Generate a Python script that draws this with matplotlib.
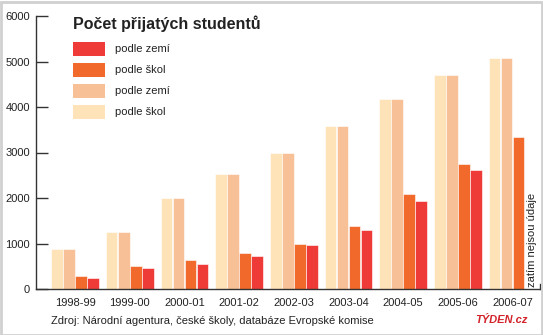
import numpy as np
import matplotlib
matplotlib.use("Agg")
import matplotlib.pyplot as plt
from matplotlib.patches import Rectangle
from matplotlib.lines import Line2D

plt.rcParams['font.family'] = ['Liberation Sans', 'DejaVu Sans']

# School years
years = ["1998-99", "1999-00", "2000-01", "2001-02", "2002-03",
         "2003-04", "2004-05", "2005-06", "2006-07"]

# Admitted students (series in drawing order within each year)
skol_light = [880, 1250, 2000, 2530, 2990, 3580, 4170, 4710, 5070]
zemi_light = [880, 1250, 2000, 2530, 2990, 3580, 4170, 4710, 5070]
skol_dark = [290, 505, 630, 790, 985, 1385, 2085, 2740, 3340]
zemi_dark = [250, 460, 545, 720, 960, 1290, 1945, 2605, np.nan]

yticks = [0, 1000, 2000, 3000, 4000, 5000, 6000]

c_red = "#EE3B38"
c_orange = "#F16A2B"
c_peach = "#F8C096"
c_cream = "#FEE3B9"

W, H = 543, 335
fig = plt.figure(figsize=(W / 100, H / 100), dpi=100)
fig.patch.set_facecolor("white")

left, right, top, bottom = 36, 540, 16, 289
ax = fig.add_axes([left / W, (H - bottom) / H, (right - left) / W, (bottom - top) / H])
ax.set_facecolor("white")

x = np.arange(len(years))
w = 0.22
series = [(skol_light, c_cream), (zemi_light, c_peach),
          (skol_dark, c_orange), (zemi_dark, c_red)]
for k, (vals, col) in enumerate(series):
    ax.bar(x + (k - 1.5) * w, vals, width=w * 0.97, color=col,
           edgecolor="white", linewidth=0.4, zorder=2)

ax.set_xlim(-0.713, 8.501)
ax.set_ylim(0, 6000)

for s in ["top", "right"]:
    ax.spines[s].set_visible(False)
for s in ["left", "bottom"]:
    ax.spines[s].set_color("#333333")
    ax.spines[s].set_linewidth(1.0)
    ax.spines[s].set_zorder(3)

ax.set_yticks(yticks)
ax.set_yticklabels([str(v) for v in yticks])
ax.tick_params(axis="y", direction="in", length=8.6, width=1.0, color="#333333",
               pad=4.5, labelsize=8, labelcolor="#222222")
ax.set_xticks(x)
ax.set_xticklabels(years)
ax.tick_params(axis="x", length=0, pad=6.5, labelsize=8, labelcolor="#222222")

# short end mark of the category axis
ax.add_line(Line2D([1, 1], [0, 0.02], transform=ax.transAxes, color="#333333",
                   lw=1.0, clip_on=False))

# title and legend block
fig.text(73 / W, 1 - 24 / H, "Počet přijatých studentů", fontsize=11.5,
         fontweight="bold", color="#222222", va="center", ha="left")
legend_items = [(c_red, "podle zemí"), (c_orange, "podle škol"),
                (c_peach, "podle zemí"), (c_cream, "podle škol")]
for i, (col, lab) in enumerate(legend_items):
    yc = 49 + i * 21
    fig.patches.append(Rectangle((73 / W, 1 - (yc + 7) / H), 32 / W, 14 / H,
                                 transform=fig.transFigure, facecolor=col,
                                 edgecolor="none"))
    fig.text(115 / W, 1 - yc / H, lab, fontsize=8, color="#222222",
             va="center", ha="left")

# note for the missing value
fig.text(532 / W, 1 - 287 / H, "zatím nejsou údaje", rotation=90, fontsize=8,
         color="#222222", va="bottom", ha="center")

# source line and logo
fig.text(51 / W, 1 - 321 / H, "Zdroj: Národní agentura, české školy, databáze Evropské komise",
         fontsize=8, color="#222222", va="center", ha="left")
fig.text(528 / W, 1 - 320 / H, "TÝDEN.cz", fontsize=8, fontweight="bold",
         fontstyle="italic", color="#D2232A", va="center", ha="right")

# light frame around the graphic
fig.patches.append(Rectangle((0.5 / W, 0.5 / H), (W - 2) / W, (H - 2) / H,
                             transform=fig.transFigure, facecolor="none",
                             edgecolor="#D0D0D0", linewidth=2.0))

fig.savefig("out.png", dpi=100, facecolor="white")
